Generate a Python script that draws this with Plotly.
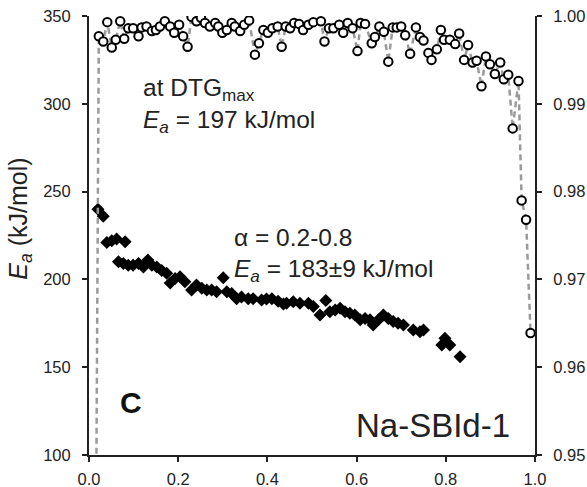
import plotly.graph_objects as go

# Open circles (right axis, correlation coefficient) at DTGmax
circ_x = [0.012, 0.022, 0.032, 0.041, 0.051, 0.060, 0.070, 0.079, 0.088, 0.099, 0.111,
          0.118, 0.129, 0.141, 0.150, 0.159, 0.170, 0.182, 0.191, 0.202, 0.211,
          0.221, 0.230, 0.241, 0.251, 0.260, 0.271, 0.283, 0.290, 0.299, 0.309,
          0.320, 0.327, 0.339, 0.348, 0.359, 0.372, 0.381, 0.391, 0.401, 0.411,
          0.423, 0.432, 0.441, 0.451, 0.460, 0.471, 0.480, 0.492, 0.503,
          0.520, 0.528, 0.538, 0.548, 0.561, 0.570, 0.580, 0.591, 0.602, 0.609,
          0.619, 0.634, 0.641, 0.651, 0.661, 0.671, 0.681, 0.690, 0.700, 0.709,
          0.720, 0.733, 0.742, 0.750, 0.761, 0.768, 0.780, 0.789, 0.796, 0.809,
          0.821, 0.830, 0.841, 0.850, 0.860, 0.869, 0.880, 0.890, 0.899, 0.910,
          0.922, 0.930, 0.940, 0.950, 0.963, 0.970, 0.980, 0.990]
circ_r = [0.9080, 0.9977, 0.9971, 0.9993, 0.9964, 0.9973, 0.9994, 0.9974, 0.9986, 0.9986, 0.9977,
          0.9987, 0.9988, 0.9983, 0.9984, 0.9988, 0.9994, 0.9988, 0.9981, 0.9990, 0.9977,
          0.9965, 0.9999, 0.9994, 0.9998, 0.9992, 0.9988, 0.9992, 0.9988, 0.9981, 0.9984,
          0.9992, 0.9988, 0.9983, 0.9990, 0.9995, 0.9956, 0.9969, 0.9984, 0.9981, 0.9986,
          0.9988, 0.9965, 0.9988, 0.9986, 0.9992, 0.9991, 0.9984, 0.9990, 0.9993,
          0.9994, 0.9971, 0.9986, 0.9986, 0.9990, 0.9981, 0.9992, 0.9986, 0.9960, 0.9992,
          0.9991, 0.9969, 0.9976, 0.9988, 0.9982, 0.9948, 0.9987, 0.9987, 0.9988, 0.9978,
          0.9957, 0.9987, 0.9976, 0.9972, 0.9958, 0.9950, 0.9962, 0.9984, 0.9973, 0.9973,
          0.9968, 0.9980, 0.9950, 0.9967, 0.9947, 0.9949, 0.9920, 0.9954, 0.9945, 0.9934,
          0.9947, 0.9928, 0.9933, 0.9872, 0.9926, 0.9790, 0.9768, 0.9639]

# Filled diamonds (left axis, Ea in kJ/mol)
dia_x = [0.020, 0.032, 0.040, 0.051, 0.062, 0.066, 0.077, 0.081, 0.088, 0.099,
         0.111, 0.122, 0.132, 0.141, 0.152, 0.163, 0.174, 0.182, 0.193, 0.204,
         0.215, 0.230, 0.241, 0.253, 0.264, 0.275, 0.286, 0.301, 0.309, 0.320,
         0.331, 0.342, 0.357, 0.368, 0.387, 0.398, 0.410, 0.424, 0.436, 0.443,
         0.458, 0.473, 0.492, 0.503, 0.518, 0.531, 0.540, 0.552, 0.563, 0.574,
         0.585, 0.596, 0.608, 0.619, 0.630, 0.637, 0.649, 0.660, 0.671, 0.682,
         0.693, 0.705, 0.727, 0.742, 0.750, 0.791, 0.798, 0.809, 0.832]
dia_e = [240.0, 236.0, 221.0, 222.0, 223.0, 210.0, 209.0, 221.5, 208.0, 208.0,
         209.0, 207.0, 211.0, 208.0, 207.0, 205.0, 203.5, 198.0, 200.5, 201.5,
         198.7, 194.0, 196.8, 195.0, 194.0, 194.0, 193.0, 201.0, 193.0, 192.0,
         189.0, 190.0, 189.0, 189.0, 188.3, 188.8, 189.0, 187.5, 186.0, 186.4,
         187.3, 186.4, 186.4, 184.5, 179.7, 188.0, 181.6, 182.6, 183.5, 181.6,
         180.7, 179.7, 177.0, 177.8, 177.0, 174.0, 177.0, 179.7, 177.8, 176.0,
         175.0, 174.0, 171.2, 170.2, 171.2, 162.6, 166.5, 162.6, 156.0]

x_ticks = [0.0, 0.2, 0.4, 0.6, 0.8, 1.0]
y_ticks = [100, 150, 200, 250, 300, 350]
y2_ticks = [0.95, 0.96, 0.97, 0.98, 0.99, 1.00]

FONT = "Arial, Liberation Sans, sans-serif"
INK = "#222"

fig = go.Figure()
fig.add_trace(go.Scatter(
    x=dia_x, y=dia_e, mode="markers", yaxis="y",
    marker=dict(symbol="diamond", size=10, color="black"),
    showlegend=False))
fig.add_trace(go.Scatter(
    x=circ_x, y=circ_r, mode="lines+markers", yaxis="y2",
    line=dict(color="#9a9a9a", width=2.5, dash="6px,4px"),
    marker=dict(symbol="circle", size=8.5, color="white",
                line=dict(color="black", width=2)),
    showlegend=False))

axis_common = dict(showline=True, linecolor=INK, linewidth=2, ticks="outside",
                   ticklen=5, tickwidth=2, tickcolor=INK, showgrid=False,
                   zeroline=False, automargin=False,
                   tickfont=dict(family=FONT, size=16.5, color=INK))

fig.update_layout(
    width=587, height=487,
    margin=dict(l=89, r=52, t=16, b=32, autoexpand=False),
    paper_bgcolor="white", plot_bgcolor="white",
    font=dict(family=FONT, color=INK),
    xaxis=dict(range=[0, 1], tickvals=x_ticks, tickformat=".1f",
               ticklabelstandoff=3, **axis_common),
    yaxis=dict(range=[100, 350], tickvals=y_ticks, ticklabelstandoff=8, **axis_common),
    yaxis2=dict(range=[0.95, 1.0], tickvals=y2_ticks, tickformat=".2f",
                ticklabelstandoff=8, overlaying="y", side="right", **axis_common),
)

# y-axis title (placed as rotated text, slightly above the axis centre as in the reference)
fig.add_annotation(xref="paper", yref="y", x=-0.155, y=234.5, text="<i>E<sub>a</sub></i> (kJ/mol)",
                   textangle=-90, showarrow=False, xanchor="center", yanchor="middle",
                   font=dict(family=FONT, size=25, color=INK))

ann_font = dict(family=FONT, size=24.5, color=INK)
anns = [
    dict(x=0.116, y=308, text="at DTG<sub>max</sub>"),
    dict(x=0.116, y=290, text="<i>E<sub>a</sub></i> = 197 kJ/mol"),
    dict(x=0.320, y=224, text="α = 0.2-0.8"),
    dict(x=0.320, y=205, text="<i>E<sub>a</sub></i> = 183±9 kJ/mol"),
]
for a in anns:
    fig.add_annotation(xref="x", yref="y", showarrow=False, xanchor="left",
                       yanchor="middle", font=ann_font, **a)
fig.add_annotation(xref="x", yref="y", x=0.094, y=130, text="<b>C</b>", showarrow=False,
                   xanchor="center", yanchor="middle", font=dict(family=FONT, size=30, color="#111"))
fig.add_annotation(xref="x", yref="y", x=0.771, y=117, text="Na-SBId-1", showarrow=False,
                   xanchor="center", yanchor="middle", font=dict(family=FONT, size=33, color=INK))

fig.write_html("out.html", config={"displayModeBar": False},
               post_script="document.body.style.margin='0';")
